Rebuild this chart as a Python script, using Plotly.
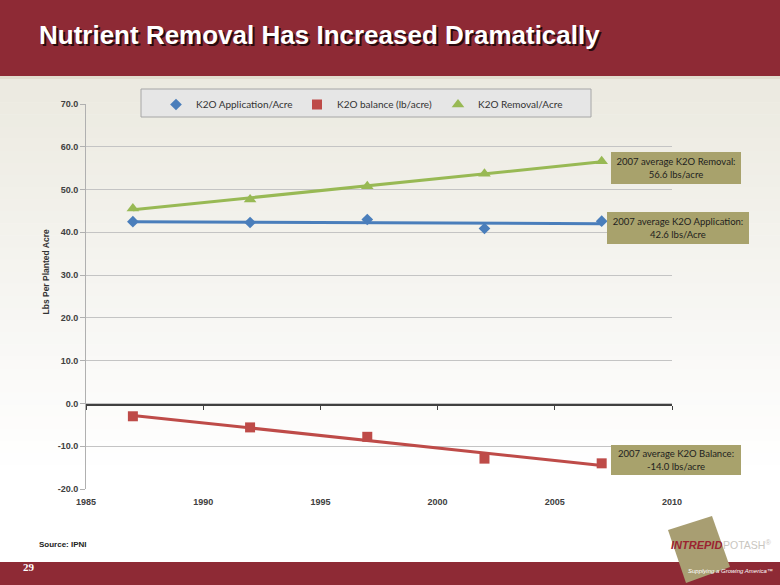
import numpy as np
import plotly.graph_objects as go

# ---------------- data ----------------
years = [1987, 1992, 1997, 2002, 2007]
application = [42.5, 42.3, 43.0, 40.9, 42.6]
balance = [-3.0, -5.6, -7.8, -12.9, -14.0]
removal = [45.6, 47.7, 50.8, 53.7, 56.6]

series_names = ["K2O Application/Acre", "K2O balance (lb/acre)", "K2O Removal/Acre"]
series_values = [application, balance, removal]
series_colors = ["#4A7EBB", "#BE4B48", "#98B954"]
series_symbols = ["diamond", "square", "triangle-up"]
series_sizes = [9, 10, 11]

y_ticks = [-20, -10, 0, 10, 20, 30, 40, 50, 60, 70]
x_ticks = [1985, 1990, 1995, 2000, 2005, 2010]

callouts = [
    ("2007 average K2O Removal:<br>56.6 lbs/acre", 676, 168, 124, 26),
    ("2007 average K2O Application:<br>42.6 lbs/Acre", 678, 228, 136, 26),
    ("2007 average K2O Balance:<br>-14.0 lbs/acre", 676, 460, 124, 24),
]

W, H = 780, 585
L, R, T, B = 86, 108, 104, 96
PW, PH = W - L - R, H - T - B


def px(x):
    return (x - L) / PW


def py(y):
    return (H - B - y) / PH


fig = go.Figure()

# trend lines (fitted from the data, as in the original chart)
for vals, col in zip(series_values, series_colors):
    m, c = np.polyfit(years, vals, 1)
    xs = [years[0], years[-1]]
    fig.add_trace(go.Scatter(x=xs, y=[m * v + c for v in xs], mode="lines",
                             line=dict(color=col, width=3), showlegend=False,
                             hoverinfo="skip"))

for name, vals, col, sym, sz in zip(series_names, series_values, series_colors,
                                   series_symbols, series_sizes):
    fig.add_trace(go.Scatter(x=years, y=vals, mode="markers", name=name,
                             marker=dict(color=col, symbol=sym, size=sz)))

# invisible trace for the zero-line axis with tick marks
fig.add_trace(go.Scatter(x=[1985, 2010], y=[0, 0], xaxis="x2", mode="lines",
                         line=dict(width=0), showlegend=False, hoverinfo="skip"))

shapes = []
# background gradient (slide)
n = 40
top, bot = 78, 562
c0 = np.array([236, 234, 225])
c1 = np.array([255, 255, 255])
for i in range(n):
    y0 = top + (bot - top) * i / n
    y1 = top + (bot - top) * (i + 1) / n
    t = min(1.0, (i / (n - 1)) * 1.25)
    c = (c0 + (c1 - c0) * t).astype(int)
    shapes.append(dict(type="rect", xref="paper", yref="paper", layer="below",
                       x0=px(0), x1=px(W), y0=py(y1 + 0.5), y1=py(y0),
                       fillcolor=f"rgb({c[0]},{c[1]},{c[2]})", line=dict(width=0)))
# top banner
shapes.append(dict(type="rect", xref="paper", yref="paper", layer="below",
                   x0=px(0), x1=px(W), y0=py(76), y1=py(0),
                   fillcolor="#8E2A35", line=dict(width=0)))
shapes.append(dict(type="rect", xref="paper", yref="paper", layer="below",
                   x0=px(0), x1=px(W), y0=py(79), y1=py(76),
                   fillcolor="#E2DDCF", line=dict(width=0)))
# bottom banner
shapes.append(dict(type="rect", xref="paper", yref="paper", layer="below",
                   x0=px(0), x1=px(W), y0=py(H), y1=py(562),
                   fillcolor="#8E2A35", line=dict(width=0)))
# legend box
shapes.append(dict(type="rect", xref="paper", yref="paper", layer="above",
                   x0=px(141), x1=px(591), y0=py(117), y1=py(89),
                   fillcolor="#E6E6E6", line=dict(color="#A6A6A6", width=1)))
# logo tile
pts = [(668, 530), (712, 516), (730, 567), (686, 583)]
path = "M " + " L ".join(f"{px(a)},{py(b)}" for a, b in pts) + " Z"
shapes.append(dict(type="path", xref="paper", yref="paper", path=path,
                   fillcolor="#A89E72", line=dict(width=0), layer="above"))

annotations = []
# title with shadow
for dx, dy, col in [(2, 2, "#2A0A0E"), (0, 0, "white")]:
    annotations.append(dict(text="<b>Nutrient Removal Has Increased Dramatically</b>",
                            xref="paper", yref="paper", x=px(37 + dx), y=py(35 + dy),
                            xanchor="left", yanchor="middle", showarrow=False,
                            font=dict(family="Liberation Sans", size=26, color=col)))
# y axis title
annotations.append(dict(text="<b>Lbs Per Planted Acre</b>", xref="paper", yref="paper",
                        x=px(38), y=py(228), textangle=-90, showarrow=False,
                        font=dict(family="Liberation Sans", size=8.5, color="#333333")))
# callouts
for txt, cx, cy, w, h in callouts:
    annotations.append(dict(text=txt, xref="paper", yref="paper", x=px(cx), y=py(cy),
                            xanchor="center", yanchor="middle", showarrow=False,
                            width=w, height=h, borderpad=2, bgcolor="#A8A26C",
                            bordercolor="#A8A26C", align="center",
                            font=dict(family="Lato", size=9.5, color="#1E1E1E")))
# source, page number, logo text
annotations.append(dict(text="<b>Source: IPNI</b>", xref="paper", yref="paper",
                        x=px(37), y=py(551), xanchor="left", showarrow=False,
                        font=dict(family="Liberation Sans", size=8, color="#222222")))
annotations.append(dict(text="<b>29</b>", xref="paper", yref="paper",
                        x=px(21), y=py(575), xanchor="left", showarrow=False,
                        font=dict(family="Liberation Serif", size=11, color="white")))
annotations.append(dict(text="<b><i>INTREPID</i></b>", xref="paper", yref="paper",
                        x=px(669), y=py(553), xanchor="left", showarrow=False,
                        font=dict(family="Liberation Sans", size=11, color="#9B2430")))
annotations.append(dict(text="POTASH<sup>®</sup>", xref="paper", yref="paper",
                        x=px(721), y=py(553), xanchor="left", showarrow=False,
                        font=dict(family="Liberation Sans", size=10.5, color="#C9C6C0")))
annotations.append(dict(text="<i>Supplying a Growing America™</i>", xref="paper", yref="paper",
                        x=px(775), y=py(576), xanchor="right", showarrow=False,
                        font=dict(family="Liberation Sans", size=6, color="white")))

tickfont = dict(family="Liberation Sans", size=9, color="#404040", weight="bold")

fig.update_layout(
    width=W, height=H, autosize=False,
    margin=dict(l=L, r=R, t=T, b=B, pad=0),
    paper_bgcolor="white", plot_bgcolor="rgba(0,0,0,0)",
    shapes=shapes, annotations=annotations,
    showlegend=True,
    legend=dict(orientation="h", x=px(156), y=py(90), xanchor="left", yanchor="top",
                bgcolor="rgba(0,0,0,0)", borderwidth=0,
                font=dict(family="Lato", size=10, color="#333333"),
                entrywidth=96, entrywidthmode="pixels", itemwidth=30,
                traceorder="normal"),
    xaxis=dict(range=[1985, 2010], tickvals=x_ticks, ticktext=[str(v) for v in x_ticks],
               showgrid=False, zeroline=False, showline=False, ticks="",
               tickfont=tickfont, automargin=False, fixedrange=True,
               ticklabelstandoff=6),
    xaxis2=dict(range=[1985, 2010], overlaying="x", anchor="free", position=py(405),
                tickvals=x_ticks, showticklabels=False, ticks="outside", ticklen=4,
                tickcolor="#404040", showline=True, linecolor="#404040", linewidth=1.5,
                showgrid=False, zeroline=False, side="bottom", automargin=False),
    yaxis=dict(range=[-20, 70], tickvals=y_ticks, ticktext=[f"{v:.1f}" for v in y_ticks],
               showgrid=True, gridcolor="#C4C4C4", gridwidth=1,
               zeroline=False, showline=True, linecolor="#B0B0B0", linewidth=1,
               ticks="outside", ticklen=5, tickcolor="#B0B0B0",
               tickfont=tickfont, automargin=False, fixedrange=True),
)

fig.write_html("out.html", config={"displayModeBar": False},
               post_script="document.body.style.margin='0px';"
                           "document.body.style.overflow='hidden';")
